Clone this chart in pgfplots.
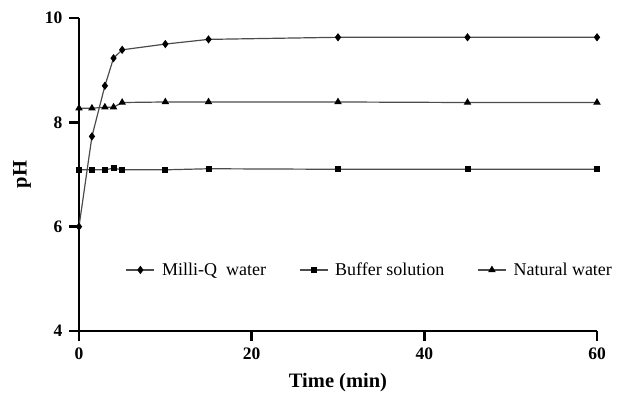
\documentclass[border=0pt]{standalone}
\usepackage{pgfplots}
\pgfplotsset{compat=1.18}
\usepackage{fontspec}
\setmainfont{Liberation Serif}
\begin{document}
\begin{tikzpicture}
\begin{axis}[
 scale only axis, width=518bp, height=313bp,
 xmin=0, xmax=60, ymin=4, ymax=10,
 axis x line*=bottom, axis y line*=left,
 axis line style={line width=2.8bp, -},
 xtick={0,20,40,60}, ytick={4,6,8,10},
 tick align=outside, major tick length=10bp,
 tick style={line width=2.8bp, black},
 ticklabel style={font=\fontsize{17.5bp}{17.5bp}\selectfont\bfseries},
 xticklabel style={yshift=-3bp},
 yticklabel style={xshift=-3bp},
 /pgf/number format/assume math mode=true,
 xlabel={Time (min)}, ylabel={pH},
 label style={font=\fontsize{20.5bp}{20.5bp}\selectfont\bfseries},
 xlabel style={at={(axis description cs:0.5,0)}, anchor=center, yshift=-52bp},
 ylabel style={at={(axis description cs:0,0.5)}, anchor=center, yshift=57bp},
 every axis plot/.append style={line width=1.2bp, color=black!70},
 legend style={at={(axis cs:5.4,5.17)}, anchor=west, draw=none, fill=none,
   inner sep=0pt, font=\fontsize{18bp}{18bp}\selectfont,
   /tikz/every even column/.append style={column sep=31bp},
   /tikz/every odd column/.append style={column sep=5bp}},
 legend columns=-1,
 legend image code/.code={\draw[mark repeat=2, mark phase=2] plot coordinates {(0bp,0bp)(14bp,0bp)(28bp,0bp)};},
]
\addplot[mark=diamond*, mark size=3.2bp, mark options={fill=black, draw=black}] coordinates {
(0,6.0) (1.5,7.73) (3,8.70) (4,9.23) (5,9.39) (10,9.50) (15,9.59) (30,9.63) (45,9.63) (60,9.63)};
\addlegendentry{Milli-Q\ \ water}
\addplot[mark=square*, mark size=2.4bp, mark options={fill=black, draw=black}] coordinates {
(0,7.09) (1.5,7.09) (3,7.09) (4,7.12) (5,7.09) (10,7.09) (15,7.11) (30,7.10) (45,7.10) (60,7.10)};
\addlegendentry{Buffer solution}
\addplot[mark=triangle*, mark size=3.2bp, mark options={fill=black, draw=black}] coordinates {
(0,8.27) (1.5,8.27) (3,8.29) (4,8.29) (5,8.38) (10,8.39) (15,8.39) (30,8.39) (45,8.38) (60,8.38)};
\addlegendentry{Natural water}
\end{axis}
\path ([xshift=-79bp,yshift=-61bp]current axis.south west) rectangle ([xshift=21bp,yshift=18bp]current axis.north east);
\end{tikzpicture}
\end{document}
